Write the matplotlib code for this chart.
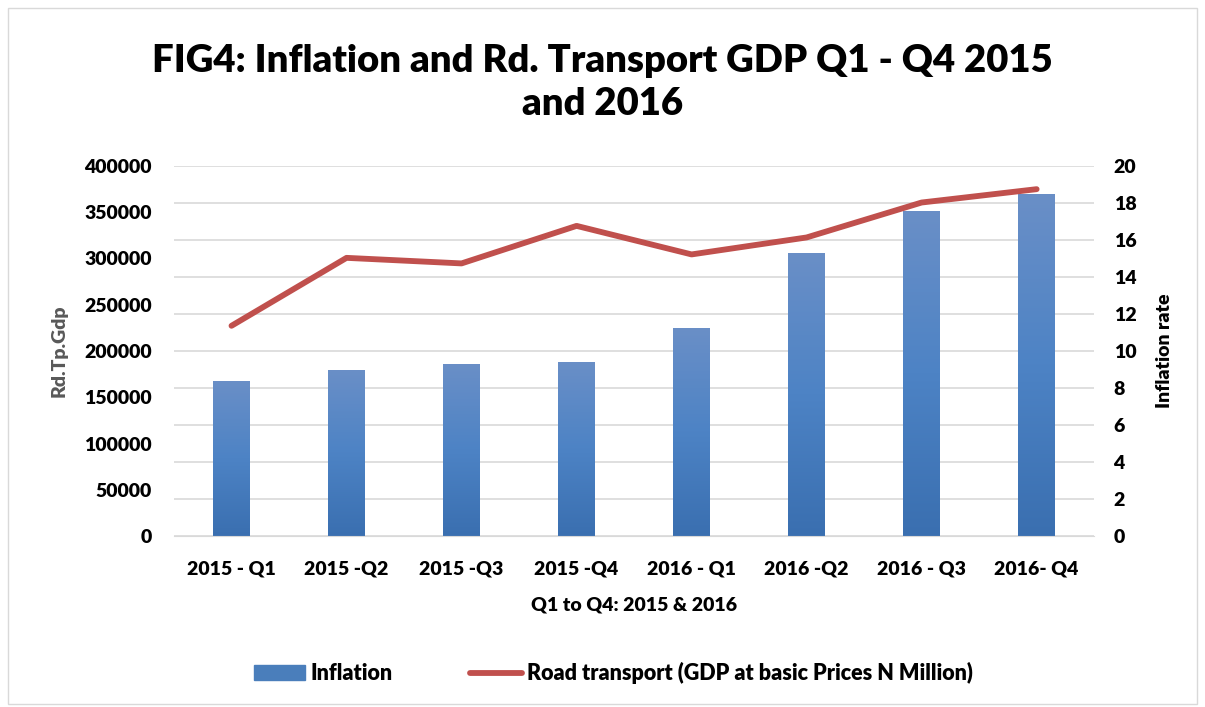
import matplotlib
matplotlib.use('agg')
import matplotlib.pyplot as plt
from matplotlib.patches import Rectangle
from matplotlib.lines import Line2D
from matplotlib.colors import LinearSegmentedColormap
import numpy as np

plt.rcParams['font.family'] = ['Lato', 'DejaVu Sans']
plt.rcParams['font.weight'] = 'heavy'

quarters = ['2015 - Q1', '2015 -Q2', '2015 -Q3', '2015 -Q4',
            '2016 - Q1', '2016 -Q2', '2016 - Q3', '2016- Q4']
inflation = [8.38, 8.98, 9.30, 9.41, 11.24, 15.28, 17.55, 18.46]
road_gdp = [227300, 300600, 294600, 335100, 304300, 322600, 360300, 374700]
left_ticks = list(range(0, 400001, 50000))
right_ticks = list(range(0, 21, 2))

bar_col = '#4a7ebb'
line_col = '#c0504d'
W = 'heavy'

fig = plt.figure(figsize=(12.05, 7.07), dpi=100)
fig.add_artist(Rectangle((0.007, 0.004), 0.986, 0.985, transform=fig.transFigure,
                         fill=False, edgecolor='#d9d9d9', lw=1))

ax = fig.add_axes([0.1444, 0.2412, 0.7636, 0.5244])
ax2 = ax.twinx()

x = np.arange(len(quarters))

# bars + grid on the right (inflation) axis
bars = ax2.bar(x, inflation, width=0.32, color=bar_col, zorder=2)
cmap = LinearSegmentedColormap.from_list('g', ['#3a6fb0', '#4d83c5', '#6a8fc7'])
grad = np.linspace(0, 1, 256).reshape(-1, 1)
for b in bars:
    x0, w, h = b.get_x(), b.get_width(), b.get_height()
    im = ax2.imshow(grad, extent=[x0, x0 + w, 0, h], origin='lower', aspect='auto',
                    cmap=cmap, zorder=2.5)
    im.set_clip_path(b)
ax2.set_ylim(0, 20)
ax2.set_xlim(-0.5, len(quarters) - 0.5)
ax2.set_yticks(right_ticks)
ax2.yaxis.grid(True, color='#d9d9d9', lw=1.2)
ax2.set_axisbelow(True)
ax2.set_ylabel('Inflation rate', fontsize=14, fontweight=W, labelpad=14)

# line on the left (GDP) axis, drawn above the bars
ax.set_zorder(ax2.get_zorder() + 1)
ax.patch.set_visible(False)
ax.plot(x, road_gdp, color=line_col, lw=4.2, solid_capstyle='round', zorder=3)
ax.set_ylim(0, 400000)
ax.set_yticks(left_ticks)
ax.set_xlim(-0.5, len(quarters) - 0.5)
ax.set_xticks(x)
ax.set_xticklabels(quarters)
ax.set_ylabel('Rd.Tp.Gdp', fontsize=14, fontweight=W, color='#595959', labelpad=12)
ax.set_xlabel('Q1 to Q4: 2015 & 2016', fontsize=14, fontweight=W, labelpad=14)

for a in (ax, ax2):
    for s in a.spines.values():
        s.set_visible(False)
    a.tick_params(length=0, labelsize=14)
ax.tick_params(axis='y', pad=16)
ax2.tick_params(axis='y', pad=14)
ax.spines['bottom'].set_visible(True)
ax.spines['bottom'].set_color('#d9d9d9')
ax.tick_params(axis='x', pad=17)

fig.suptitle('FIG4: Inflation and Rd. Transport GDP Q1 - Q4 2015\nand 2016',
             fontsize=27.5, fontweight=W, y=0.938, linespacing=1.33)

handles = [Rectangle((0, 0), 1, 1, color=bar_col),
           Line2D([0], [0], color=line_col, lw=4.2, solid_capstyle='round')]
fig.legend(handles, ['Inflation', 'Road transport (GDP at basic Prices N Million)'],
           loc='center', bbox_to_anchor=(0.509, 0.048), ncol=2, frameon=False,
           prop={'size': 15.5, 'weight': W},
           handlelength=2.4, handletextpad=0.25, columnspacing=3.6)

fig.savefig('out.png', dpi=100)
